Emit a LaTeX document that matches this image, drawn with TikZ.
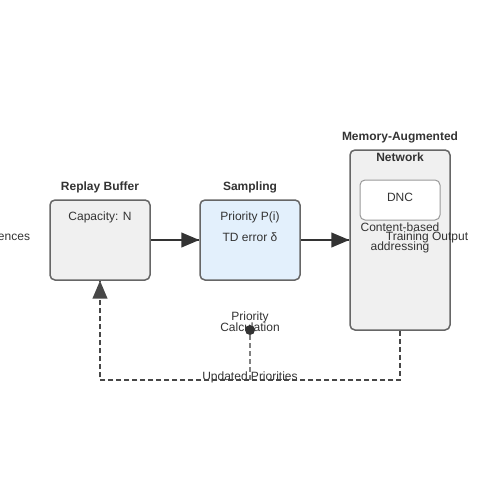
\documentclass[tikz,border=0pt]{standalone}
\usepackage{fontspec}
\setmainfont{Liberation Sans}
\usetikzlibrary{arrows}
\usetikzlibrary{decorations.markings}
\usetikzlibrary{positioning}
\definecolor{boxgray}{HTML}{F0F0F0}
\definecolor{boxblue}{HTML}{E3F0FC}
\definecolor{edgegray}{HTML}{666666}
\definecolor{ink}{HTML}{333333}
\tikzset{flow/.style = {decoration={markings,
                                    mark=at position 1 with {\arrow[scale=1.4, solid]{triangle 45}}},
                        postaction={decorate}}}
\tikzset{block/.style = {draw=edgegray, line width=1.5, rounded corners=5,
                         minimum width=100, minimum height=80, inner sep=0}}
\tikzset{title/.style = {font=\bfseries\fontsize{12}{14}\selectfont, text=ink, inner sep=0}}
\tikzset{txt/.style = {font=\fontsize{12}{14}\selectfont, text=ink, inner sep=0}}
\tikzset{dot/.style = {fill=ink, circle, inner sep=0, minimum size=10}}

\begin{document}
\begin{tikzpicture}[x=1pt, y=-1pt]
      \useasboundingbox (0, 0) rectangle (500, 500);
      % boxes
      \node [block, fill=boxgray] (buf) at (100, 240) {};
      \node [block, fill=boxblue] (samp) at (250, 240) {};
      \node [block, fill=boxgray, minimum height=180] (mem) at (400, 240) {};
      \node [block, fill=white, draw=gray!80, line width=1, minimum width=80,
             minimum height=40] (dnc) at (400, 200) {};
      % titles
      \node [title] (buftitle) at (100, 187) {Replay Buffer};
      \node [title] (samptitle) at (250, 187) {Sampling};
      \node [title] (memtitle) at (400, 137) {Memory-Augmented};
      \node [title] (memtitle2) at (400, 157) {Network};
      % texts
      \node [txt] (exp) at (-3, 237) {Experiences};
      \node [txt] (cap) at (100, 217) {Capacity: N};
      \node [txt] (prio) at (250, 217) {Priority P(i)};
      \node [txt] (td) at (250, 237) {TD error δ};
      \node [txt] (dnctext) at (400, 197) {DNC};
      \node [txt] (content) at (400, 227) {Content-based};
      \node [txt] (addr) at (400, 247) {addressing};
      \node [txt] (out) at (427, 237) {Training Output};
      \node [txt] (calctext) at (250, 317) {Priority};
      \node [txt] (calctext2) at (250, 327) {Calculation};
      \node [txt] (upd) at (250, 377) {Updated Priorities};
      % flow
      \draw [flow, ink, line width=2] (buf) -- (samp);
      \draw [flow, ink, line width=2] (samp) -- (mem);
      % feedback
      \coordinate (loop) at (250, 380);
      \node [dot] (calc) at (250, 330) {};
      \draw [gray, line width=1.5, dash pattern=on 5 off 3] (calc) -- (loop);
      \draw [flow, ink!90, line width=2, dash pattern=on 5 off 3]
            (mem.south) |- (loop) -| (buf.south);
    \end{tikzpicture}
\end{document}
